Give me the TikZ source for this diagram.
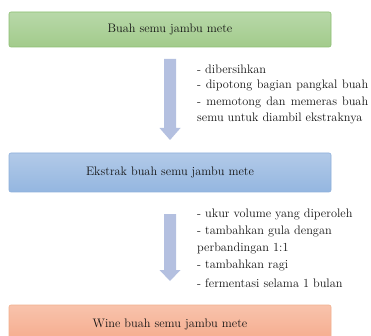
\documentclass[tikz,border=0pt]{standalone}
\usepackage{fontspec}
\usetikzlibrary{positioning}
\definecolor{gtop}{HTML}{B8D8A9}
\definecolor{gbot}{HTML}{A2CB8B}
\definecolor{gbrd}{HTML}{8DBF73}
\definecolor{btop}{HTML}{B2CAE8}
\definecolor{bbot}{HTML}{94B6E0}
\definecolor{bbrd}{HTML}{8EB0DB}
\definecolor{otop}{HTML}{F8C3AC}
\definecolor{obot}{HTML}{F5A98A}
\definecolor{obrd}{HTML}{F2B08E}
\definecolor{arr}{HTML}{B4C0E0}
\definecolor{txt}{HTML}{141414}
\tikzset{
  stagebox/.style={rounded corners=2pt, line width=0.6pt, minimum width=322pt, minimum height=35pt, inner sep=0pt,
    font=\rmfamily\fontsize{12.3}{16}\selectfont, text=txt},
  sidetext/.style={anchor=west, inner sep=0pt, font=\rmfamily\fontsize{12.3}{16}\selectfont, text=txt},
  blockarrow/.style={fill=arr, draw=none}
}
\begin{document}
\begin{tikzpicture}[x=1pt,y=-1pt]
\useasboundingbox (0,0) rectangle (371,336);
\clip (0,0) rectangle (371,336);
\fill[white] (0,0) rectangle (371,336);
% boxes
\node[stagebox, draw=gbrd, top color=gtop, bottom color=gbot, minimum height=35pt] (b1) at (170,29.5) {Buah semu jambu mete};
\node[stagebox, draw=bbrd, top color=btop, bottom color=bbot, minimum height=39pt] (b2) at (170,172.5) {Ekstrak buah semu jambu mete};
\node[stagebox, draw=obrd, top color=otop, bottom color=obot, minimum height=40pt] (b3) at (170,325) {};
\node[sidetext, anchor=center] (b3t) at (170,324) {Wine buah semu jambu mete};
% arrows
\fill[blockarrow] (164,59) -- (176,59) -- (176,128) -- (180.5,128) -- (170,140) -- (159.5,128) -- (164,128) -- cycle;
\fill[blockarrow] (164,214) -- (176,214) -- (176,270) -- (180.5,270) -- (170,281) -- (159.5,270) -- (164,270) -- cycle;
% side texts block 1
\node[sidetext] (s1) at (197,69) {- dibersihkan};
\node[sidetext] (s2) at (197,85.5) {\makebox[171pt][s]{- dipotong bagian pangkal buah}};
\node[sidetext] (s3) at (197,102) {\makebox[171pt][s]{- memotong dan memeras buah}};
\node[sidetext] (s4) at (197,118.5) {semu untuk diambil ekstraknya};
% side texts block 2
\node[sidetext] (t1) at (197,214) {- ukur volume yang diperoleh};
\node[sidetext] (t2) at (197,231) {- tambahkan gula dengan};
\node[sidetext] (t3) at (197,248) {perbandingan 1:1};
\node[sidetext] (t4) at (197,265.5) {- tambahkan ragi};
\node[sidetext] (t5) at (197,283) {- fermentasi selama 1 bulan};
\end{tikzpicture}
\end{document}
